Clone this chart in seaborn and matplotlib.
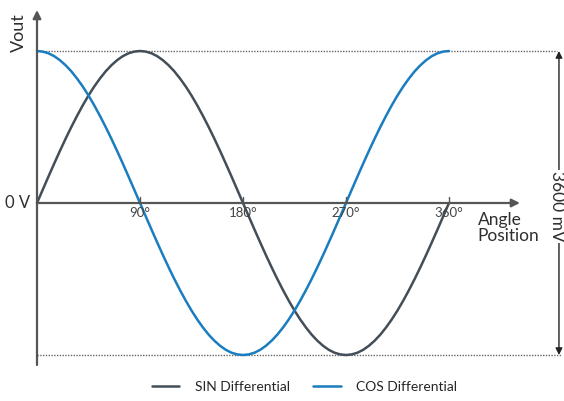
import pandas as pd
import seaborn as sns
import matplotlib.pyplot as plt

# angle in degrees, outputs in mV (5 deg steps)
angle = list(range(0, 361, 5))
sin_mv = [0, 157, 313, 466, 616, 761, 900, 1032, 1157, 1273, 1379, 1474, 1559,
          1631, 1691, 1739, 1773, 1793, 1800, 1793, 1773, 1739, 1691, 1631,
          1559, 1474, 1379, 1273, 1157, 1032, 900, 761, 616, 466, 313, 157,
          0, -157, -313, -466, -616, -761, -900, -1032, -1157, -1273, -1379,
          -1474, -1559, -1631, -1691, -1739, -1773, -1793, -1800, -1793, -1773,
          -1739, -1691, -1631, -1559, -1474, -1379, -1273, -1157, -1032, -900,
          -761, -616, -466, -313, -157, 0]
cos_mv = [1800, 1793, 1773, 1739, 1691, 1631, 1559, 1474, 1379, 1273, 1157,
          1032, 900, 761, 616, 466, 313, 157, 0, -157, -313, -466, -616, -761,
          -900, -1032, -1157, -1273, -1379, -1474, -1559, -1631, -1691, -1739,
          -1773, -1793, -1800, -1793, -1773, -1739, -1691, -1631, -1559, -1474,
          -1379, -1273, -1157, -1032, -900, -761, -616, -466, -313, -157, 0,
          157, 313, 466, 616, 761, 900, 1032, 1157, 1273, 1379, 1474, 1559,
          1631, 1691, 1739, 1773, 1793, 1800]
tick_deg = [90, 180, 270, 360]
tick_labels = ["90°", "180°", "270°", "360°"]
span_label = "3600 mV"

sns.set_style("white")
plt.rcParams['font.family'] = ['Lato', 'DejaVu Sans']

df = pd.DataFrame({
    "angle": angle * 2,
    "mv": sin_mv + cos_mv,
    "signal": ["SIN Differential"] * len(angle) + ["COS Differential"] * len(angle),
})

fig = plt.figure(figsize=(5.64, 4.01), dpi=100)
ax = fig.add_axes([0, 0, 1, 1])
ax.set_xlim(-32.33, 460.5)
ax.set_ylim(-2344.7, 2403.9)
ax.axis("off")

axis_col = "#555555"
txt_col = "#2f2f2f"
# axes with arrows
ax.annotate("", xy=(0, 2285), xytext=(0, -1918),
            arrowprops=dict(arrowstyle="-|>", color=axis_col, lw=1.6,
                            mutation_scale=12, shrinkA=0, shrinkB=0))
ax.annotate("", xy=(422, 0), xytext=(0, 0),
            arrowprops=dict(arrowstyle="-|>", color=axis_col, lw=1.6,
                            mutation_scale=12, shrinkA=0, shrinkB=0))

# dotted reference lines
ax.plot([0, 454], [1800, 1800], color="#666666", lw=1, ls=(0, (1, 1)))
ax.plot([0, 458.7], [-1800, -1800], color="#666666", lw=1, ls=(0, (1, 1)))

sns.lineplot(data=df, x="angle", y="mv", hue="signal", ax=ax, lw=1.8,
             palette={"SIN Differential": "#434e58", "COS Differential": "#1a7dbf"},
             sort=False)

# ticks and labels
for d, lab in zip(tick_deg, tick_labels):
    ax.plot([d, d], [0, 70], color=axis_col, lw=1)
    ax.text(d, -50, lab, ha="center", va="top", fontsize=9.5, color="#444444")

ax.text(-6, 0, "0 V", ha="right", va="center", fontsize=12, color=txt_col)
ax.text(-15.5, 2020, "Vout", ha="center", va="center", rotation=90,
        fontsize=13, color=txt_col)
ax.text(385, -300, "Angle\nPosition", ha="left", va="center", fontsize=12.5,
        color=txt_col, linespacing=1.0)

# span arrow
ax.annotate("", xy=(456.1, 1800), xytext=(456.1, -1800),
            arrowprops=dict(arrowstyle="<|-|>", color="#222222", lw=1,
                            mutation_scale=10, shrinkA=0, shrinkB=0))
ax.text(454.5, -40, span_label, ha="center", va="center", rotation=270,
        fontsize=12.5, color=txt_col,
        bbox=dict(facecolor="white", edgecolor="none", pad=1))

sns.move_legend(ax, "lower center", bbox_to_anchor=(0.54, -0.01), ncol=2,
                frameon=False, title=None, fontsize=10, handlelength=2.0,
                handletextpad=1.1, columnspacing=1.7)

fig.savefig("out.png", dpi=100)
